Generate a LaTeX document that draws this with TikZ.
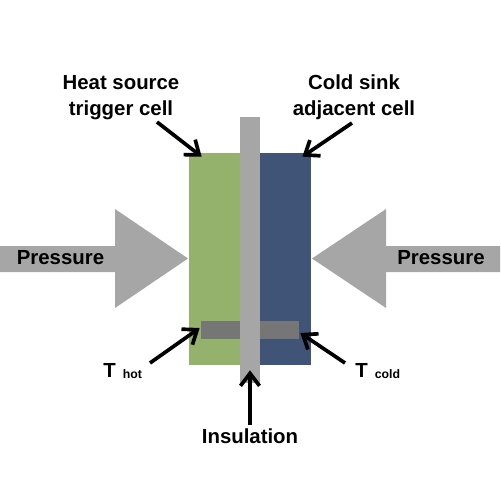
\documentclass[tikz,border=0pt]{standalone}
\usepackage{fontspec}
\setmainfont{Liberation Sans}
\usetikzlibrary{positioning, arrows.meta}
\definecolor{chot}{RGB}{148,178,108}
\definecolor{ccold}{RGB}{64,84,120}
\definecolor{cins}{RGB}{166,166,166}
\definecolor{csens}{RGB}{118,118,118}

\begin{document}
\begin{tikzpicture}[x=0.02cm, y=-0.02cm, >={Straight Barb[length=2.5mm, width=3.8mm]},
    cell/.style={draw=none, minimum width=1.02cm, minimum height=4.24cm, inner sep=0},
    sens/.style={draw=none, fill=csens, minimum width=0.78cm, minimum height=0.36cm, inner sep=0},
    lbl/.style={inner sep=0, font=\fontsize{11.6}{14.8}\selectfont\bfseries, align=center},
    ptr/.style={->, line width=2.1pt}]

  \useasboundingbox (0,0) rectangle (500,500);

  % cells and insulation
  \node[cell, fill=chot] (hot) at (214.5,259) {};
  \node[cell, fill=ccold] (cold) at (285.5,259) {};
  \node[draw=none, fill=cins, minimum width=0.4cm, minimum height=5.32cm, inner sep=0] (insul) at (250,250) {};
  \node[sens] (hotsens) at (220.5,330) {};
  \node[sens] (coldsens) at (279.5,330) {};

  % pressure arrows
  \fill[cins] (0,246) -- (115,246) -- (115,209) -- (188,258.5) -- (115,308) -- (115,272) -- (0,272) -- cycle;
  \fill[cins] (500,246) -- (386,246) -- (386,209) -- (312,258.5) -- (386,308) -- (386,272) -- (500,272) -- cycle;
  \node[lbl, anchor=base] (presL) at (60.5,264) {Pressure};
  \node[lbl, anchor=base] (presR) at (441,264) {Pressure};

  % labels
  \node[lbl, anchor=north] (heatlbl) at (121,75) {Heat source\\trigger cell};
  \node[lbl, anchor=north] (coldlbl) at (354,74) {Cold sink\\adjacent cell};
  \node[lbl, anchor=base west] (thot) at (103,377) {T\hspace{4pt}{\fontsize{7}{8}\selectfont\raisebox{-1pt}{hot}}};
  \node[lbl, anchor=base west] (tcold) at (355,377) {T\hspace{4pt}{\fontsize{7}{8}\selectfont\raisebox{-1pt}{cold}}};
  \node[lbl, anchor=base] (insullbl) at (250,443) {Insulation};

  \coordinate (heattail) at (157,122);
  \coordinate (coldtail) at (352,123);
  \coordinate (thottail) at (150,363);
  \coordinate (tcoldtail) at (345,363);
  \coordinate (insultail) at (250,425);

  % pointers
  \draw[ptr] (heattail) -- ([shift={(13,4)}]hot.north west);
  \draw[ptr] (coldtail) -- ([shift={(-9,4)}]cold.north east);
  \draw[ptr] (thottail) -- ([shift={(-1,-2)}]hotsens.west);
  \draw[ptr] (tcoldtail) -- ([shift={(1,3)}]coldsens.east);
  \draw[ptr] (insultail) -- ([shift={(0,-13)}]insul.south);
\end{tikzpicture}
\end{document}
